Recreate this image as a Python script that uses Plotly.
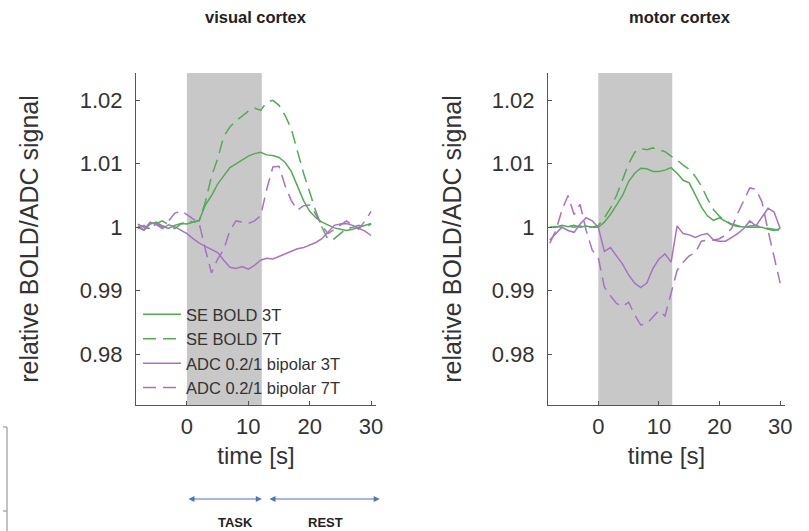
import plotly.graph_objects as go

time_s = [-8, -7, -6, -5, -4, -3, -2, -1, 0, 1, 2, 3, 4, 5, 6, 7, 8, 9, 10, 11, 12,
          13, 14, 15, 16, 17, 18, 19, 20, 21, 22, 23, 24, 25, 26, 27, 28, 29, 30]

# visual cortex
vis_se3 = [1.0000, 0.9995, 1.0005, 1.0008, 1.0002, 0.9998, 1.0003, 1.0006, 1.0005, 1.0008, 1.0011,
           1.0035, 1.0050, 1.0068, 1.0082, 1.0094, 1.0100, 1.0106, 1.0112, 1.0116, 1.0118,
           1.0114, 1.0113, 1.0110, 1.0102, 1.0088, 1.0065, 1.0042, 1.0025, 1.0015, 1.0008,
           1.0003, 0.9999, 0.9997, 0.9995, 0.9997, 1.0000, 1.0003, 1.0006]
vis_se7 = [1.0005, 1.0000, 0.9998, 1.0006, 1.0010, 1.0004, 0.9998, 1.0005, 1.0010, 1.0008, 1.0010,
           1.0040, 1.0080, 1.0108, 1.0143, 1.0158, 1.0168, 1.0175, 1.0183, 1.0188, 1.0184,
           1.0197, 1.0200, 1.0192, 1.0176, 1.0155, 1.0120, 1.0085, 1.0055, 1.0025, 1.0000,
           0.9980, 0.9982, 0.9990, 0.9998, 1.0000, 1.0003, 1.0000, 1.0005]
vis_adc3 = [1.0002, 0.9996, 1.0008, 1.0004, 0.9998, 1.0004, 1.0001, 0.9995, 0.9990, 0.9982, 0.9975,
            0.9970, 0.9965, 0.9960, 0.9948, 0.9937, 0.9935, 0.9938, 0.9934, 0.9940, 0.9948,
            0.9951, 0.9950, 0.9954, 0.9958, 0.9963, 0.9966, 0.9968, 0.9972, 0.9976, 0.9982,
            0.9993, 1.0003, 1.0005, 1.0006, 1.0003, 0.9999, 0.9994, 0.9987]
vis_adc7 = [0.9998, 1.0003, 0.9996, 1.0006, 1.0000, 1.0010, 1.0022, 1.0026, 1.0020, 1.0013, 1.0006,
            0.9965, 0.9928, 0.9950, 0.9965, 0.9995, 1.0010, 1.0008, 1.0006, 1.0010, 1.0018,
            1.0060, 1.0095, 1.0096, 1.0065, 1.0042, 1.0027, 1.0034, 1.0035, 1.0020, 1.0002,
            0.9990, 0.9997, 1.0003, 1.0010, 1.0003, 0.9997, 1.0010, 1.0025]

# motor cortex
mot_se3 = [1.0000, 1.0000, 1.0003, 1.0001, 1.0003, 1.0000, 1.0002, 1.0000, 1.0000, 1.0008, 1.0020,
           1.0035, 1.0050, 1.0072, 1.0085, 1.0093, 1.0092, 1.0088, 1.0088, 1.0090, 1.0094,
           1.0085, 1.0074, 1.0070, 1.0050, 1.0032, 1.0018, 1.0011, 1.0015, 1.0010, 1.0004,
           1.0001, 1.0000, 1.0000, 1.0000, 1.0000, 0.9997, 0.9995, 0.9998]
mot_se7 = [1.0000, 1.0001, 1.0000, 1.0002, 1.0000, 1.0002, 1.0000, 1.0000, 1.0003, 1.0015, 1.0030,
           1.0050, 1.0075, 1.0100, 1.0118, 1.0124, 1.0122, 1.0125, 1.0122, 1.0119, 1.0112,
           1.0106, 1.0098, 1.0091, 1.0080, 1.0065, 1.0045, 1.0028, 1.0017, 1.0010, 1.0005,
           1.0002, 1.0000, 1.0002, 1.0003, 1.0000, 0.9998, 0.9997, 0.9995]
mot_adc3 = [0.9980, 0.9990, 1.0000, 0.9995, 0.9992, 1.0005, 1.0015, 1.0010, 1.0000, 0.9962, 0.9968,
            0.9955, 0.9942, 0.9925, 0.9912, 0.9905, 0.9912, 0.9935, 0.9950, 0.9958, 0.9945,
            1.0002, 0.9990, 0.9988, 0.9984, 0.9988, 0.9990, 0.9980, 0.9978, 0.9978, 0.9984,
            0.9990, 0.9998, 1.0010, 1.0002, 1.0015, 1.0030, 1.0024, 0.9998]
mot_adc7 = [0.9975, 0.9995, 1.0027, 1.0050, 1.0020, 1.0036, 0.9995, 0.9964, 0.9952, 0.9906, 0.9892,
            0.9880, 0.9875, 0.9882, 0.9862, 0.9846, 0.9848, 0.9858, 0.9869, 0.9860, 0.9895,
            0.9932, 0.9945, 0.9955, 0.9960, 0.9978, 0.9980, 0.9980, 0.9982, 0.9988, 0.9998,
            1.0022, 1.0042, 1.0062, 1.0060, 1.0040, 0.9995, 0.9955, 0.9912]

series_names = ["SE BOLD 3T", "SE BOLD 7T", "ADC 0.2/1 bipolar 3T", "ADC 0.2/1 bipolar 7T"]
panel_titles = ["visual cortex", "motor cortex"]
y_tickvals = [0.98, 0.99, 1.0, 1.01, 1.02]
y_ticktext = ["0.98", "0.99", "1", "1.01", "1.02"]
x_tickvals = [0, 10, 20, 30]
task_end = 12.2

GREEN = "#52AD52"
PURPLE = "#A872C4"
DASH = "13px,7px"
FONT = "Liberation Sans, Arial, sans-serif"
TXT = "#333333"
AX = "#555555"

fig = go.Figure()
styles = [(GREEN, "solid"), (GREEN, DASH), (PURPLE, "solid"), (PURPLE, DASH)]
for i, ys in enumerate([vis_se3, vis_se7, vis_adc3, vis_adc7]):
    c, d = styles[i]
    fig.add_trace(go.Scatter(x=time_s, y=ys, mode="lines", name=series_names[i],
                             line=dict(color=c, dash=d, width=1.5), xaxis="x", yaxis="y"))
for i, ys in enumerate([mot_se3, mot_se7, mot_adc3, mot_adc7]):
    c, d = styles[i]
    fig.add_trace(go.Scatter(x=time_s, y=ys, mode="lines", name=series_names[i], showlegend=False,
                             line=dict(color=c, dash=d, width=1.5), xaxis="x2", yaxis="y2"))

xr = [-8.3, 30.8]
yr = [0.972, 1.0243]
W, H = 809, 531
ydom = [1 - 405 / H, 1 - 73 / H]

def xax(dom, anchor):
    return dict(domain=dom, range=xr, anchor=anchor, showline=True, linecolor=AX, linewidth=1.2,
                ticks="inside", ticklen=4, tickcolor=AX, tickvals=x_tickvals, showgrid=False,
                zeroline=False, mirror=False, tickfont=dict(size=22, color=TXT, family=FONT),
                ticklabelstandoff=1,
                title=dict(text="time [s]", font=dict(size=24, color=TXT, family=FONT), standoff=9),
                automargin=False)

def yax(anchor, standoff):
    return dict(domain=ydom, range=yr, anchor=anchor, showline=True, linecolor=AX, linewidth=1.2,
                ticks="inside", ticklen=4, tickcolor=AX, tickvals=y_tickvals, ticktext=y_ticktext,
                showgrid=False, zeroline=False, tickfont=dict(size=22, color=TXT, family=FONT),
                ticklabelstandoff=8,
                title=dict(text="relative BOLD/ADC signal", font=dict(size=25, color=TXT, family=FONT),
                           standoff=standoff),
                automargin=False)

fig.update_layout(
    width=W, height=H, margin=dict(l=0, r=0, t=0, b=0),
    paper_bgcolor="white", plot_bgcolor="white",
    xaxis=xax([136 / W, 376 / W], "y"), yaxis=yax("x", 33),
    xaxis2=xax([548 / W, 785 / W], "y2"), yaxis2=yax("x2", 22),
    showlegend=True,
    legend=dict(x=138 / W, y=1 - 297 / H, xanchor="left", yanchor="top", bgcolor="rgba(0,0,0,0)",
                borderwidth=0, font=dict(size=16.5, color=TXT, family=FONT), tracegroupgap=0,
                itemwidth=38),
)

for xa, ya in [("x", "y"), ("x2", "y2")]:
    fig.add_shape(type="rect", xref=xa, yref=f"{ya} domain", x0=0, x1=task_end, y0=0, y1=1,
                  fillcolor="#C8C8C8", line=dict(width=0), layer="below")

for txt, cx in zip(panel_titles, [256, 680]):
    fig.add_annotation(text=f"<b>{txt}</b>", x=cx / W, y=1 - 17 / H, xref="paper", yref="paper",
                       xanchor="center", yanchor="middle", showarrow=False,
                       font=dict(size=16.5, color="#222222", family=FONT))

# TASK / REST arrows
ARC = "#4A74C4"
yarrow = 1 - 499 / H
fig.add_annotation(x=task_end, y=yarrow, xref="x", yref="paper", ax=0, ay=0, axref="x",
                   ayref="pixel", showarrow=True, arrowside="end+start", arrowhead=2, arrowsize=1,
                   arrowwidth=1.2, arrowcolor=ARC, text="")
fig.add_annotation(x=31.4, y=yarrow, xref="x", yref="paper", ax=13.2, ay=0, axref="x",
                   ayref="pixel", showarrow=True, arrowside="end+start", arrowhead=2, arrowsize=1,
                   arrowwidth=1.2, arrowcolor=ARC, text="")
fig.add_annotation(text="<b>TASK</b>", x=7.9, y=1 - 522 / H, xref="x", yref="paper", showarrow=False,
                   xanchor="center", yanchor="middle", font=dict(size=13, color="#222222", family=FONT))
fig.add_annotation(text="<b>REST</b>", x=22.6, y=1 - 522 / H, xref="x", yref="paper", showarrow=False,
                   xanchor="center", yanchor="middle", font=dict(size=13, color="#222222", family=FONT))

# partial axis at the left edge
fig.add_shape(type="line", xref="paper", yref="paper", x0=7 / W, x1=7 / W, y0=0, y1=1 - 427 / H,
              line=dict(color="#999999", width=1.2))
fig.add_shape(type="line", xref="paper", yref="paper", x0=3 / W, x1=7 / W, y0=1 - 427 / H, y1=1 - 427 / H,
              line=dict(color="#999999", width=1.2))
fig.add_shape(type="line", xref="paper", yref="paper", x0=3 / W, x1=7 / W, y0=1 - 511 / H, y1=1 - 511 / H,
              line=dict(color="#999999", width=1.2))

fig.write_html("out.html")
